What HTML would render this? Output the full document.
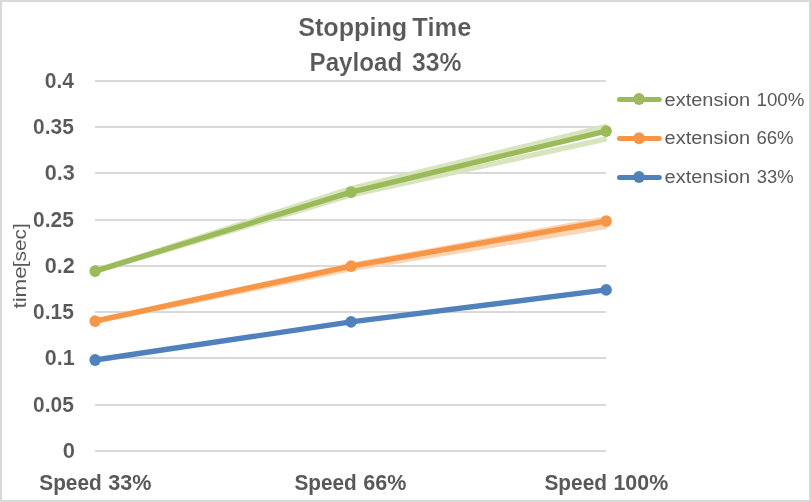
<!DOCTYPE html>
<html lang="en"><head><meta charset="utf-8"><title>Stopping Time Payload 33%</title>
<style>html,body{margin:0;padding:0;background:#fff;}body{width:811px;height:502px;overflow:hidden;}svg{display:block;}text{font-family:"Liberation Sans", Arial, sans-serif;fill:#595959;}</style></head><body>
<svg width="811" height="502" viewBox="0 0 811 502">
<rect x="0" y="0" width="811" height="502" fill="#fff"/>
<rect x="1" y="1" width="809" height="500" fill="none" stroke="#d9d9d9" stroke-width="2"/>
<rect x="95.0" y="80" width="511.0" height="2" fill="#d9d9d9"/>
<rect x="95.0" y="126" width="511.0" height="2" fill="#d9d9d9"/>
<rect x="95.0" y="172" width="511.0" height="2" fill="#d9d9d9"/>
<rect x="95.0" y="219" width="511.0" height="2" fill="#d9d9d9"/>
<rect x="95.0" y="265" width="511.0" height="2" fill="#d9d9d9"/>
<rect x="95.0" y="311" width="511.0" height="2" fill="#d9d9d9"/>
<rect x="95.0" y="357" width="511.0" height="2" fill="#d9d9d9"/>
<rect x="95.0" y="404" width="511.0" height="2" fill="#d9d9d9"/>
<rect x="95.0" y="450" width="511.0" height="2" fill="#d9d9d9"/>
<clipPath id="bandclip"><rect x="90" y="60" width="516.8" height="400"/></clipPath>
<g clip-path="url(#bandclip)">
<polyline points="95.1,271.1 351.1,188.6 612.6,125.0" fill="none" stroke="#D7E4BD" stroke-width="5.35" stroke-linecap="butt" stroke-linejoin="round"/>
<polyline points="95.1,271.1 351.1,195.0 612.6,137.6" fill="none" stroke="#D7E4BD" stroke-width="5.35" stroke-linecap="butt" stroke-linejoin="round"/>
<polyline points="95.1,321.1 351.1,265.4 612.6,217.8" fill="none" stroke="#FCD5B5" stroke-width="5.35" stroke-linecap="butt" stroke-linejoin="round"/>
<polyline points="95.1,321.1 351.1,268.6 612.6,225.4" fill="none" stroke="#FCD5B5" stroke-width="5.35" stroke-linecap="butt" stroke-linejoin="round"/>
</g>
<polyline points="95.1,360.0 351.0,321.9 606.2,289.9" fill="none" stroke="#4F81BD" stroke-width="5.35" stroke-linecap="round" stroke-linejoin="round"/>
<ellipse cx="95.1" cy="360.0" rx="5.7" ry="5.95" fill="#4F81BD"/><ellipse cx="351.0" cy="321.9" rx="5.7" ry="5.95" fill="#4F81BD"/><ellipse cx="606.2" cy="289.9" rx="5.7" ry="5.95" fill="#4F81BD"/>
<polyline points="95.1,321.1 351.1,266.1 606.2,221.1" fill="none" stroke="#F79646" stroke-width="5.35" stroke-linecap="round" stroke-linejoin="round"/>
<ellipse cx="95.1" cy="321.1" rx="5.7" ry="5.95" fill="#F79646"/><ellipse cx="351.1" cy="266.1" rx="5.7" ry="5.95" fill="#F79646"/><ellipse cx="606.2" cy="221.1" rx="5.7" ry="5.95" fill="#F79646"/>
<polyline points="95.1,271.1 351.1,192.1 606.2,131.1" fill="none" stroke="#9BBB59" stroke-width="5.35" stroke-linecap="round" stroke-linejoin="round"/>
<ellipse cx="95.1" cy="271.1" rx="5.7" ry="5.95" fill="#9BBB59"/><ellipse cx="351.1" cy="192.1" rx="5.7" ry="5.95" fill="#9BBB59"/><ellipse cx="606.2" cy="131.1" rx="5.7" ry="5.95" fill="#9BBB59"/>
<text y="35.8" font-size="26.4" font-weight="bold" stroke="#fff" stroke-width="0.15" paint-order="fill stroke"><tspan x="298.17" textLength="109.09" lengthAdjust="spacingAndGlyphs">Stopping</tspan> <tspan x="412.35" textLength="58.95" lengthAdjust="spacingAndGlyphs">Time</tspan></text>
<text y="70.6" font-size="26.4" font-weight="bold" stroke="#fff" stroke-width="0.15" paint-order="fill stroke"><tspan x="309.53" textLength="92.76" lengthAdjust="spacingAndGlyphs">Payload</tspan> <tspan x="412.11" textLength="49.49" lengthAdjust="spacingAndGlyphs">33%</tspan></text>
<text y="87.7" font-size="21.6" font-weight="bold" stroke="#fff" stroke-width="0.1" paint-order="fill stroke"><tspan x="44.76" textLength="29.36" lengthAdjust="spacingAndGlyphs">0.4</tspan></text>
<text y="133.7" font-size="21.6" font-weight="bold" stroke="#fff" stroke-width="0.1" paint-order="fill stroke"><tspan x="33.07" textLength="40.78" lengthAdjust="spacingAndGlyphs">0.35</tspan></text>
<text y="179.7" font-size="21.6" font-weight="bold" stroke="#fff" stroke-width="0.1" paint-order="fill stroke"><tspan x="44.74" textLength="30.14" lengthAdjust="spacingAndGlyphs">0.3</tspan></text>
<text y="226.7" font-size="21.6" font-weight="bold" stroke="#fff" stroke-width="0.1" paint-order="fill stroke"><tspan x="33.07" textLength="40.78" lengthAdjust="spacingAndGlyphs">0.25</tspan></text>
<text y="272.7" font-size="21.6" font-weight="bold" stroke="#fff" stroke-width="0.1" paint-order="fill stroke"><tspan x="44.74" textLength="30.14" lengthAdjust="spacingAndGlyphs">0.2</tspan></text>
<text y="318.7" font-size="21.6" font-weight="bold" stroke="#fff" stroke-width="0.1" paint-order="fill stroke"><tspan x="33.07" textLength="40.78" lengthAdjust="spacingAndGlyphs">0.15</tspan></text>
<text y="364.7" font-size="21.6" font-weight="bold" stroke="#fff" stroke-width="0.1" paint-order="fill stroke"><tspan x="44.75" textLength="29.92" lengthAdjust="spacingAndGlyphs">0.1</tspan></text>
<text y="411.7" font-size="21.6" font-weight="bold" stroke="#fff" stroke-width="0.1" paint-order="fill stroke"><tspan x="33.07" textLength="40.78" lengthAdjust="spacingAndGlyphs">0.05</tspan></text>
<text y="457.7" font-size="21.6" font-weight="bold" stroke="#fff" stroke-width="0.1" paint-order="fill stroke"><tspan x="62.73" textLength="12.27" lengthAdjust="spacingAndGlyphs">0</tspan></text>
<text y="490.3" font-size="21.6" font-weight="bold"><tspan x="39.28" textLength="62.49" lengthAdjust="spacingAndGlyphs">Speed</tspan> <tspan x="108.37" textLength="43.15" lengthAdjust="spacingAndGlyphs">33%</tspan></text>
<text y="490.3" font-size="21.6" font-weight="bold"><tspan x="294.48" textLength="62.29" lengthAdjust="spacingAndGlyphs">Speed</tspan> <tspan x="363.35" textLength="43.07" lengthAdjust="spacingAndGlyphs">66%</tspan></text>
<text y="490.3" font-size="21.6" font-weight="bold"><tspan x="544.48" textLength="62.49" lengthAdjust="spacingAndGlyphs">Speed</tspan> <tspan x="613.41" textLength="54.80" lengthAdjust="spacingAndGlyphs">100%</tspan></text>
<text y="0.0" font-size="19.2" font-weight="normal" transform="translate(26.0,308.25) rotate(-90)"><tspan x="-0.34" textLength="42.20" lengthAdjust="spacingAndGlyphs">time</tspan><tspan x="40.99" textLength="43.97" lengthAdjust="spacingAndGlyphs">[sec]</tspan></text>
<line x1="619.5" y1="99.4" x2="659.3" y2="99.4" stroke="#9BBB59" stroke-width="5" stroke-linecap="round"/>
<ellipse cx="639" cy="99.0" rx="5.8" ry="6.0" fill="#9BBB59"/>
<text y="105.5" font-size="19.2" font-weight="normal"><tspan x="664.60" textLength="85.52" lengthAdjust="spacingAndGlyphs">extension</tspan> <tspan x="756.49" textLength="47.95" lengthAdjust="spacingAndGlyphs">100%</tspan></text>
<line x1="619.5" y1="138.6" x2="659.3" y2="138.6" stroke="#F79646" stroke-width="5" stroke-linecap="round"/>
<ellipse cx="639" cy="138.2" rx="5.8" ry="6.0" fill="#F79646"/>
<text y="144.2" font-size="19.2" font-weight="normal"><tspan x="664.60" textLength="85.52" lengthAdjust="spacingAndGlyphs">extension</tspan> <tspan x="756.47" textLength="37.16" lengthAdjust="spacingAndGlyphs">66%</tspan></text>
<line x1="619.5" y1="177.5" x2="659.3" y2="177.5" stroke="#4F81BD" stroke-width="5" stroke-linecap="round"/>
<ellipse cx="639" cy="177.1" rx="5.8" ry="6.0" fill="#4F81BD"/>
<text y="183.1" font-size="19.2" font-weight="normal"><tspan x="664.60" textLength="85.52" lengthAdjust="spacingAndGlyphs">extension</tspan> <tspan x="756.76" textLength="36.87" lengthAdjust="spacingAndGlyphs">33%</tspan></text>
</svg></body></html>
